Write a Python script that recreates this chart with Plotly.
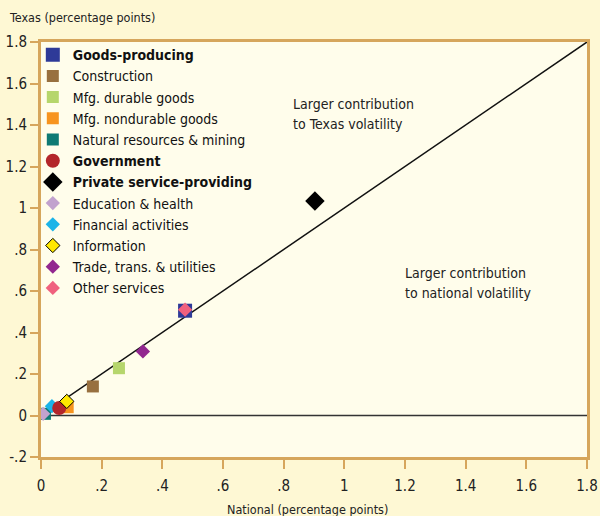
import plotly.graph_objects as go

names = ["<b>Goods-producing</b>", "Construction", "Mfg. durable goods", "Mfg. nondurable goods",
         "Natural resources & mining", "<b>Government</b>", "<b>Private service-providing</b>",
         "Education & health", "Financial activities", "Information",
         "Trade, trans. & utilities", "Other services"]
national = [0.475, 0.171, 0.257, 0.088, 0.013, 0.060, 0.903, 0.007, 0.036, 0.085, 0.336, 0.475]
texas = [0.505, 0.140, 0.228, 0.040, 0.008, 0.036, 1.034, 0.008, 0.045, 0.068, 0.309, 0.510]
colors = ["#2E3A98", "#98703F", "#B6D66C", "#F7941E", "#0E7A74", "#B3262B", "#000000",
          "#C2A2CE", "#1CB4E8", "#FFE800", "#92278F", "#F0617E"]
symbols = ["square", "square", "square", "square", "square", "circle", "diamond",
           "diamond", "diamond", "diamond", "diamond", "diamond"]
sizes = [14, 12, 12, 12, 12, 14, 15, 11, 11, 11, 11, 11]
# draw order (indices), legend order is the list order
draw_order = [4, 7, 8, 3, 5, 9, 1, 2, 10, 0, 11, 6]

xticks = [0, 0.2, 0.4, 0.6, 0.8, 1, 1.2, 1.4, 1.6, 1.8]
xticklabels = ["0", ".2", ".4", ".6", ".8", "1", "1.2", "1.4", "1.6", "1.8"]
yticks = [-0.2, 0, 0.2, 0.4, 0.6, 0.8, 1, 1.2, 1.4, 1.6, 1.8]
yticklabels = ["-.2", "0", ".2", ".4", ".6", ".8", "1", "1.2", "1.4", "1.6", "1.8"]

region_lines = [("Larger contribution", 0.823, 1.502), ("to Texas volatility", 0.823, 1.406),
                ("Larger contribution", 1.195, 0.686), ("to national volatility", 1.195, 0.589)]

FONT = "Liberation Sans Narrow, DejaVu Sans Condensed, Arial Narrow, sans-serif"
TAN = "#D6A65C"

fig = go.Figure()
fig.add_trace(go.Scatter(x=[0, 1.8], y=[0, 1.8], mode="lines",
                         line=dict(color="#111111", width=1.5), showlegend=False, hoverinfo="skip"))
fig.add_trace(go.Scatter(x=[0, 1.8], y=[0, 0], mode="lines",
                         line=dict(color="#333333", width=1.5), showlegend=False, hoverinfo="skip"))
for i in draw_order:
    line = dict(color="#000000", width=1) if names[i] == "Information" else dict(width=0)
    fig.add_trace(go.Scatter(
        x=[national[i]], y=[texas[i]], mode="markers", name=names[i],
        legendrank=i + 1,
        marker=dict(color=colors[i], symbol=symbols[i], size=sizes[i], line=line),
    ))

for txt, xx, yy in region_lines:
    fig.add_annotation(x=xx, y=yy, xref="x", yref="y", xanchor="left", yanchor="middle",
                       align="left", showarrow=False, text=txt,
                       font=dict(family=FONT, size=14, color="#222222"))
fig.add_annotation(x=-34 / 546, y=1, xref="paper", yref="paper", xanchor="left", yanchor="bottom",
                   yshift=15, showarrow=False, text="Texas (percentage points)",
                   font=dict(family=FONT, size=12.5, color="#222222"))
fig.add_annotation(x=0.488, y=0, xref="paper", yref="paper", xanchor="center", yanchor="middle",
                   yshift=-52, showarrow=False, text="National (percentage points)",
                   font=dict(family=FONT, size=12.5, color="#222222"))

fig.update_layout(
    width=600, height=516,
    margin=dict(l=41, r=13, t=42, b=59, autoexpand=False),
    paper_bgcolor="#FEF8D4",
    plot_bgcolor="#FFFDEB",
    font=dict(family=FONT, size=15, color="#222222"),
    legend=dict(x=-0.015, y=1.007, xanchor="left", yanchor="top", bgcolor="rgba(0,0,0,0)",
                font=dict(family=FONT, size=14, color="#111111"), itemwidth=30,
                tracegroupgap=0, traceorder="normal", maxheight=600,
                borderwidth=0),
    xaxis=dict(range=[0, 1.8], tickvals=xticks, ticktext=xticklabels, showgrid=False,
               zeroline=False, showline=True, linecolor=TAN, linewidth=3, mirror=True,
               ticks="outside", ticklen=9, tickwidth=2, tickcolor=TAN, automargin=False,
               ticklabelstandoff=4),
    yaxis=dict(range=[-0.2, 1.8], tickvals=yticks, ticktext=yticklabels, showgrid=False,
               zeroline=False, showline=True, linecolor=TAN, linewidth=3, mirror=True,
               ticks="outside", ticklen=8, tickwidth=2, tickcolor=TAN, automargin=False),
)
fig.write_html("out.html", post_script="document.body.style.margin='0px';",
               config={"displayModeBar": False})
